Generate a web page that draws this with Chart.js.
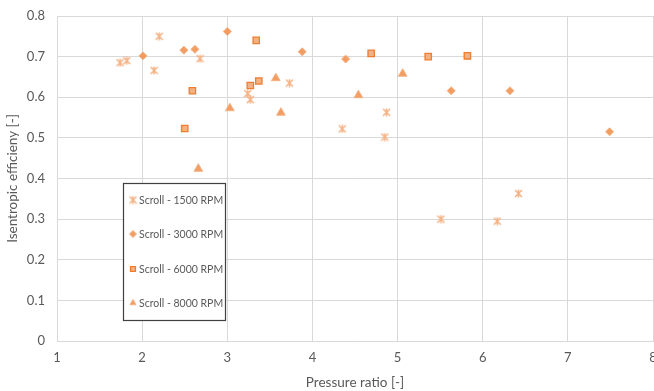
<!DOCTYPE html>
<html>
<head>
<meta charset="utf-8">
<script src="https://cdn.jsdelivr.net/npm/chart.js@4"></script>
<style>
  html, body { margin: 0; padding: 0; background: #fff; overflow: hidden; }
  #wrap { width: 654px; height: 391px; position: relative; overflow: hidden; }
</style>
</head>
<body>
<div id="wrap"><canvas id="chart" width="659" height="391"></canvas></div>
<script>
// Series data
const labels = ["Scroll - 1500 RPM", "Scroll - 3000 RPM", "Scroll - 6000 RPM", "Scroll - 8000 RPM"];

const x1500 = [1.74, 1.82, 2.14, 2.20, 2.68, 3.24, 3.27, 3.73, 4.35, 4.85, 4.87, 5.51, 6.17, 6.42];
const y1500 = [0.685, 0.690, 0.666, 0.750, 0.695, 0.609, 0.594, 0.635, 0.522, 0.502, 0.563, 0.300, 0.295, 0.363];

const x3000 = [2.01, 2.49, 2.62, 3.00, 3.88, 4.39, 5.63, 6.32, 7.49];
const y3000 = [0.702, 0.716, 0.718, 0.762, 0.712, 0.694, 0.616, 0.616, 0.515];

const x6000 = [2.50, 2.59, 3.27, 3.34, 3.37, 4.69, 5.36, 5.82];
const y6000 = [0.523, 0.616, 0.629, 0.740, 0.640, 0.708, 0.700, 0.702];

const x8000 = [2.66, 3.03, 3.57, 3.63, 4.54, 5.06];
const y8000 = [0.424, 0.573, 0.647, 0.562, 0.605, 0.658];

const xTicks = [1, 2, 3, 4, 5, 6, 7, 8];
const yTicks = [0, 0.1, 0.2, 0.3, 0.4, 0.5, 0.6, 0.7, 0.8];

const toPoints = (xs, ys) => xs.map((x, i) => ({ x: x, y: ys[i] }));

const orange = "#ED7D31";
const lightOrange = "#F4B183";
const fillOrange = "rgba(240,140,70,0.85)";
const gridColor = "#d9d9d9";
const textColor = "#595959";
const fontFamily = "Lato, 'Open Sans', sans-serif";

// Excel-like asterisk marker: X with a vertical bar
function makeAsterisk(size) {
  const c = document.createElement("canvas");
  c.width = size;
  c.height = size;
  const g = c.getContext("2d");
  g.strokeStyle = lightOrange;
  g.lineWidth = 1.5;
  g.beginPath();
  g.moveTo(1, 1); g.lineTo(size - 1, size - 1);
  g.moveTo(size - 1, 1); g.lineTo(1, size - 1);
  g.moveTo(size / 2, 0.5); g.lineTo(size / 2, size - 0.5);
  g.stroke();
  return c;
}
const asterisk = makeAsterisk(9);

// Legend drawn inside the plot, like the original
const legendBox = {
  id: "legendBox",
  afterDraw(chart) {
    const ctx = chart.ctx;
    ctx.save();
    ctx.fillStyle = "#fff";
    ctx.fillRect(123, 183, 102, 137);
    ctx.strokeStyle = "#404040";
    ctx.lineWidth = 1.2;
    ctx.strokeRect(123.5, 183.5, 102, 137);
    const rows = [200, 234, 269, 303];
    chart.data.datasets.forEach((ds, i) => {
      ctx.fillStyle = ds.backgroundColor;
      ctx.strokeStyle = ds.borderColor;
      ctx.lineWidth = ds.borderWidth;
      Chart.helpers.drawPoint(ctx, {
        pointStyle: ds.pointStyle,
        radius: 3.5,
        rotation: 0,
        borderWidth: ds.borderWidth
      }, 133, rows[i]);
      ctx.fillStyle = textColor;
      ctx.font = "10.5px " + fontFamily;
      ctx.textBaseline = "middle";
      ctx.textAlign = "left";
      ctx.fillText(ds.label, 139, rows[i] + 0.5);
    });
    ctx.restore();
  }
};

const ctx = document.getElementById("chart").getContext("2d");
new Chart(ctx, {
  type: "scatter",
  data: {
    datasets: [
      {
        label: labels[0],
        data: toPoints(x1500, y1500),
        pointStyle: asterisk,
        backgroundColor: lightOrange,
        borderColor: lightOrange,
        borderWidth: 1,
        pointRadius: 4.5
      },
      {
        label: labels[1],
        data: toPoints(x3000, y3000),
        pointStyle: "rectRot",
        backgroundColor: fillOrange,
        borderColor: lightOrange,
        borderWidth: 1,
        pointRadius: 4
      },
      {
        label: labels[2],
        data: toPoints(x6000, y6000),
        pointStyle: "rect",
        backgroundColor: lightOrange,
        borderColor: orange,
        borderWidth: 1.3,
        pointRadius: 4.5
      },
      {
        label: labels[3],
        data: toPoints(x8000, y8000),
        pointStyle: "triangle",
        backgroundColor: fillOrange,
        borderColor: lightOrange,
        borderWidth: 1,
        pointRadius: 5
      }
    ]
  },
  options: {
    responsive: false,
    animation: false,
    layout: { padding: { top: 16, right: 0, left: 0, bottom: 0 } },
    plugins: {
      legend: { display: false },
      tooltip: { enabled: false }
    },
    scales: {
      x: {
        type: "linear",
        min: xTicks[0],
        max: xTicks[xTicks.length - 1],
        afterBuildTicks: (axis) => { axis.ticks = xTicks.map(v => ({ value: v })); },
        afterFit: (axis) => {
          axis.height = 50;
          axis.paddingLeft = 0;
          axis.paddingRight = 0;
        },
        grid: { color: gridColor, lineWidth: 1, drawTicks: false },
        border: { color: gridColor },
        ticks: {
          color: textColor,
          font: { family: fontFamily, size: 13 },
          padding: 9,
          maxRotation: 0
        },
        title: {
          display: true,
          text: "Pressure ratio [-]",
          color: textColor,
          font: { family: fontFamily, size: 13.5 },
          padding: { top: 2, bottom: 0 }
        }
      },
      y: {
        min: yTicks[0],
        max: yTicks[yTicks.length - 1],
        afterBuildTicks: (axis) => { axis.ticks = yTicks.map(v => ({ value: v })); },
        afterFit: (axis) => {
          axis.width = 57;
          axis.paddingTop = 0;
          axis.paddingBottom = 0;
        },
        grid: { color: gridColor, lineWidth: 1, drawTicks: false },
        border: { color: gridColor },
        ticks: {
          color: textColor,
          font: { family: fontFamily, size: 13 },
          padding: 12,
          callback: (v) => String(Number(v.toFixed(1)))
        },
        title: {
          display: true,
          text: "Isentropic efficieny [-]",
          color: textColor,
          font: { family: fontFamily, size: 13.5 },
          padding: { top: 5, bottom: 0 }
        }
      }
    }
  },
  plugins: [legendBox]
});
</script>
</body>
</html>
